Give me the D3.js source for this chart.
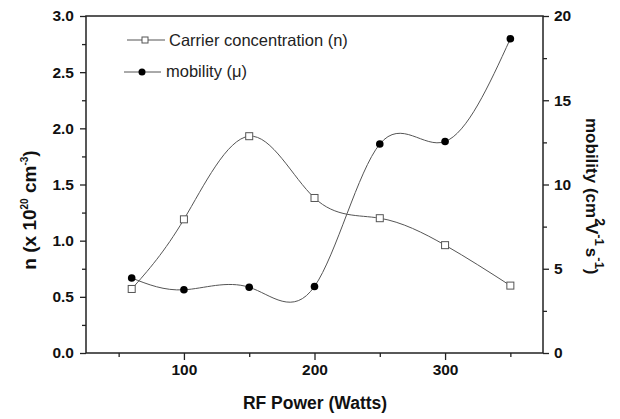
<!DOCTYPE html>
<html><head><meta charset="utf-8">
<script src="https://cdn.jsdelivr.net/npm/d3@7/dist/d3.min.js"></script>
<style>body{margin:0;background:#fff}</style>
</head><body>
<svg id="c" width="620" height="419"></svg>
<script>
const power = [60, 100, 150, 200, 250, 300, 350];
const carrier = [0.57, 1.19, 1.93, 1.38, 1.20, 0.96, 0.60];
const mobility = [4.45, 3.75, 3.9, 3.95, 12.4, 12.55, 18.65];
const xTicks = [100, 200, 300];
const yLeftTicks = [0, 0.5, 1.0, 1.5, 2.0, 2.5, 3.0];
const yRightTicks = [0, 5, 10, 15, 20];

const svg = d3.select("#c");
const L = 86, R = 543, T = 16, B = 353;
const x = d3.scaleLinear().domain([25, 375]).range([L, R]);
const yl = d3.scaleLinear().domain([0, 3]).range([B, T]);
const yr = d3.scaleLinear().domain([0, 20]).range([B, T]);
const font = "Liberation Sans, Arial, sans-serif";

// frame
svg.append("rect").attr("x", L).attr("y", T).attr("width", R - L).attr("height", B - T)
  .attr("fill", "none").attr("stroke", "#222").attr("stroke-width", 1.5);

// x axis
const gx = svg.append("g").attr("transform", `translate(0,${B})`)
  .call(d3.axisBottom(x).tickValues(xTicks).tickSize(7).tickSizeOuter(0).tickPadding(4).tickFormat(d3.format("d")));
const gxm = svg.append("g").attr("transform", `translate(0,${B})`)
  .call(d3.axisBottom(x).tickValues([50, 150, 250, 350]).tickSize(4).tickSizeOuter(0).tickFormat(""));
// left axis
const gl = svg.append("g").attr("transform", `translate(${L},0)`)
  .call(d3.axisLeft(yl).tickValues(yLeftTicks).tickSize(6).tickSizeOuter(0).tickPadding(6).tickFormat(d3.format(".1f")));
const glm = svg.append("g").attr("transform", `translate(${L},0)`)
  .call(d3.axisLeft(yl).tickValues([0.25, 0.75, 1.25, 1.75, 2.25, 2.75]).tickSize(4).tickSizeOuter(0).tickFormat(""));
// right axis
const gr = svg.append("g").attr("transform", `translate(${R},0)`)
  .call(d3.axisRight(yr).tickValues(yRightTicks).tickSize(6).tickSizeOuter(0).tickPadding(5).tickFormat(d3.format("d")));
const grm = svg.append("g").attr("transform", `translate(${R},0)`)
  .call(d3.axisRight(yr).tickValues([2.5, 7.5, 12.5, 17.5]).tickSize(4).tickSizeOuter(0).tickFormat(""));

[gx, gxm, gl, glm, gr, grm].forEach(g => {
  g.select(".domain").remove();
  g.selectAll("line").attr("stroke", "#222").attr("stroke-width", 1.3);
  g.selectAll("text").attr("font-family", font).attr("font-size", 15.5).attr("font-weight", "bold").attr("fill", "#111");
});

// lines
const lineN = d3.line().x((d, i) => x(power[i])).y(d => yl(d)).curve(d3.curveNatural);
const lineM = d3.line().x((d, i) => x(power[i])).y(d => yr(d)).curve(d3.curveNatural);
svg.append("path").attr("d", lineN(carrier)).attr("fill", "none").attr("stroke", "#555").attr("stroke-width", 1);
svg.append("path").attr("d", lineM(mobility)).attr("fill", "none").attr("stroke", "#555").attr("stroke-width", 1);

svg.selectAll(".sq").data(carrier).enter().append("rect")
  .attr("x", (d, i) => x(power[i]) - 3.5).attr("y", d => yl(d) - 3.5)
  .attr("width", 7).attr("height", 7).attr("fill", "#fff").attr("stroke", "#555").attr("stroke-width", 1);
svg.selectAll(".ci").data(mobility).enter().append("circle")
  .attr("cx", (d, i) => x(power[i])).attr("cy", d => yr(d)).attr("r", 3.8).attr("fill", "#000");

// legend
svg.append("line").attr("x1", 127).attr("x2", 165).attr("y1", 40).attr("y2", 40).attr("stroke", "#555");
svg.append("rect").attr("x", 142).attr("y", 37).attr("width", 6).attr("height", 6).attr("fill", "#fff").attr("stroke", "#555");
svg.append("text").attr("x", 169).attr("y", 46).text("Carrier concentration (n)")
  .attr("font-family", font).attr("font-size", 16.5).attr("fill", "#222");
svg.append("line").attr("x1", 124).attr("x2", 161).attr("y1", 72).attr("y2", 72).attr("stroke", "#555");
svg.append("circle").attr("cx", 142).attr("cy", 72).attr("r", 3.5).attr("fill", "#000");
svg.append("text").attr("x", 166).attr("y", 77).text("mobility (\u03BC)")
  .attr("font-family", font).attr("font-size", 16.5).attr("fill", "#222");

// x title
svg.append("text").attr("x", 315).attr("y", 409).attr("text-anchor", "middle")
  .attr("font-family", font).attr("font-size", 17.5).attr("font-weight", "bold").attr("fill", "#111")
  .text("RF Power (Watts)");

// left title
const tl = svg.append("text").attr("transform", "translate(36,210) rotate(-90)").attr("text-anchor", "middle")
  .attr("font-family", font).attr("font-size", 19).attr("font-weight", "bold").attr("fill", "#111");
tl.append("tspan").text("n (x 10");
tl.append("tspan").attr("font-size", 10).attr("dy", -8).text("20");
tl.append("tspan").attr("dy", 8).text(" cm");
tl.append("tspan").attr("font-size", 10).attr("dy", -8).text("-3");
tl.append("tspan").attr("dy", 8).text(")");

// right title
const tr = svg.append("text").attr("transform", "translate(586,118) rotate(90)").attr("text-anchor", "start")
  .attr("font-family", font).attr("font-size", 17).attr("font-weight", "bold").attr("fill", "#111");
tr.append("tspan").text("mobility (cm");
tr.append("tspan").attr("font-size", 14).attr("dy", -9).text("2");
tr.append("tspan").attr("dy", 9).attr("dx", -3).text("V");
tr.append("tspan").attr("font-size", 13).attr("dy", -9).text("-1");
tr.append("tspan").attr("dy", 9).attr("dx", 2).text("s");
tr.append("tspan").attr("font-size", 13).attr("dy", -9).text("-1");
tr.append("tspan").attr("dy", 9).text(")");
</script>
</body></html>
